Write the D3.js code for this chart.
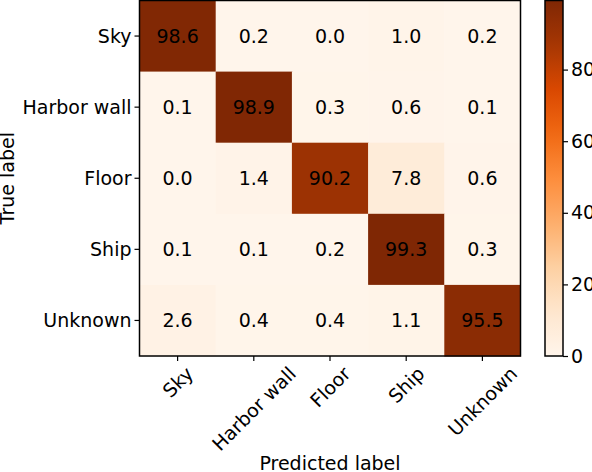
<!DOCTYPE html>
<html>
<head>
<meta charset="utf-8">
<script src="https://cdn.jsdelivr.net/npm/d3@7"></script>
<style>
  body { margin: 0; background: #fff; }
  text { font-family: "DejaVu Sans", sans-serif; fill: #000; }
</style>
</head>
<body>
<div id="chart"></div>
<script>
// confusion matrix data (percent)
const classes = ["Sky", "Harbor wall", "Floor", "Ship", "Unknown"];
const row_sky = [98.6, 0.2, 0.0, 1.0, 0.2];
const row_wall = [0.1, 98.9, 0.3, 0.6, 0.1];
const row_floor = [0.0, 1.4, 90.2, 7.8, 0.6];
const row_ship = [0.1, 0.1, 0.2, 99.3, 0.3];
const row_unknown = [2.6, 0.4, 0.4, 1.1, 95.5];
const cb_ticks = [0, 20, 40, 60, 80];

const rows = [row_sky, row_wall, row_floor, row_ship, row_unknown];

const W = 592, H = 472;
const fs = 19;
const m = {left: 139.5, top: 0.5, right: 520.5, bottom: 356};
const cb = {left: 545, right: 563};

// matplotlib "Oranges" (linear segments between colorbrewer stops)
const oranges = ["#fff5eb","#fee6ce","#fdd0a2","#fdae6b","#fd8d3c","#f16913","#d94801","#a63603","#7f2704"];
const cmap = d3.scaleLinear()
    .domain(d3.range(oranges.length).map(i => i / (oranges.length - 1)))
    .range(oranges)
    .interpolate(d3.interpolateRgb);

const vmin = d3.min(rows.flat());
const vmax = d3.max(rows.flat());
const norm = d3.scaleLinear().domain([vmin, vmax]).range([0, 1]).clamp(true);

const cells = [];
rows.forEach((r, i) => r.forEach((v, j) => cells.push({row: classes[i], col: classes[j], value: v})));

const svg = d3.select("#chart").append("svg")
    .attr("width", W)
    .attr("height", H);

const x = d3.scaleBand().domain(classes).range([m.left, m.right]);
const y = d3.scaleBand().domain(classes).range([m.top, m.bottom]);

// cells
svg.append("g")
    .selectAll("rect")
    .data(cells)
    .enter()
    .append("rect")
    .attr("x", d => x(d.col))
    .attr("y", d => y(d.row))
    .attr("width", x.bandwidth() + 0.5)
    .attr("height", y.bandwidth() + 0.5)
    .attr("fill", d => cmap(norm(d.value)));

// cell labels
svg.append("g")
    .selectAll("text")
    .data(cells)
    .enter()
    .append("text")
    .attr("x", d => x(d.col) + x.bandwidth() / 2)
    .attr("y", d => y(d.row) + y.bandwidth() / 2)
    .attr("text-anchor", "middle")
    .attr("dominant-baseline", "central")
    .style("font-size", fs + "px")
    .text(d => d.value.toFixed(1));

// frame
svg.append("rect")
    .attr("x", m.left)
    .attr("y", m.top)
    .attr("width", m.right - m.left)
    .attr("height", m.bottom - m.top)
    .attr("fill", "none")
    .attr("stroke", "#000")
    .attr("stroke-width", 1.5);

// y axis
const yAxis = svg.append("g")
    .attr("transform", `translate(${m.left},0)`)
    .call(d3.axisLeft(y).tickSize(5).tickPadding(3));
yAxis.select(".domain").remove();
yAxis.selectAll("line").attr("stroke-width", 1.2);
yAxis.selectAll("text")
    .attr("dy", "0.35em")
    .style("font-size", fs + "px")
    .style("font-family", "DejaVu Sans");

// x axis, labels rotated 45 and centred under tick
const xAxis = svg.append("g")
    .attr("transform", `translate(0,${m.bottom})`)
    .call(d3.axisBottom(x).tickSize(5).tickFormat(""));
xAxis.select(".domain").remove();
xAxis.selectAll("line").attr("stroke-width", 1.2);

const labelTop = 364;
svg.append("g")
    .selectAll("text")
    .data(classes)
    .enter()
    .append("text")
    .style("font-size", fs + "px")
    .attr("text-anchor", "middle")
    .attr("dominant-baseline", "central")
    .text(d => d)
    .each(function(d) {
        const w = this.getComputedTextLength();
        const h = fs * 0.9;
        const half = (w + h) * Math.SQRT1_2 / 2;
        const cx = x(d) + x.bandwidth() / 2;
        d3.select(this).attr("transform", `translate(${cx},${labelTop + half}) rotate(-45)`);
    });

// axis titles
svg.append("text")
    .attr("x", (m.left + m.right) / 2)
    .attr("y", 470)
    .attr("text-anchor", "middle")
    .style("font-size", fs + "px")
    .text("Predicted label");

svg.append("text")
    .attr("transform", `translate(14,${(m.top + m.bottom) / 2}) rotate(-90)`)
    .attr("text-anchor", "middle")
    .style("font-size", fs + "px")
    .text("True label");

// colorbar
const defs = svg.append("defs");
const grad = defs.append("linearGradient")
    .attr("id", "cbgrad")
    .attr("x1", "0").attr("y1", "1")
    .attr("x2", "0").attr("y2", "0");
d3.range(0, 1.0001, 0.05).forEach(t => {
    grad.append("stop")
        .attr("offset", t)
        .attr("stop-color", cmap(t));
});

const cy = d3.scaleLinear().domain([vmin, vmax]).range([m.bottom, m.top]);

svg.append("rect")
    .attr("x", cb.left)
    .attr("y", m.top)
    .attr("width", cb.right - cb.left)
    .attr("height", m.bottom - m.top)
    .attr("fill", "url(#cbgrad)")
    .attr("stroke", "#000")
    .attr("stroke-width", 1.5);

const cbAxis = svg.append("g")
    .attr("transform", `translate(${cb.right},0)`)
    .call(d3.axisRight(cy).tickValues(cb_ticks).tickSize(5).tickPadding(3));
cbAxis.select(".domain").remove();
cbAxis.selectAll("line").attr("stroke-width", 1.2);
cbAxis.selectAll("text")
    .style("font-size", fs + "px")
    .style("font-family", "DejaVu Sans");
</script>
</body>
</html>
